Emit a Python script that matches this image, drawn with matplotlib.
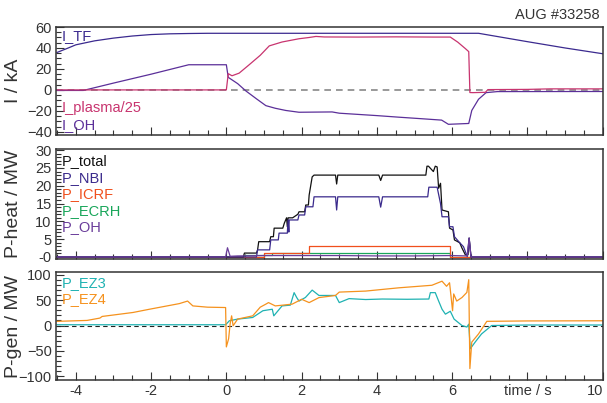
import numpy as np
import matplotlib
matplotlib.use('Agg')
from matplotlib import pyplot as plt
from matplotlib.ticker import MultipleLocator, FixedLocator, FixedFormatter

plt.rcParams['font.family'] = ['Liberation Sans', 'DejaVu Sans']

# --- data (time in s) ---
t_itf = [-4.5, -4.2, -4.0, -3.5, -3.0, -2.5, -2.0, -1.5, -1.0, -0.5, 0.0, 6.7, 8.0, 9.0, 10.0]
i_tf = [35.7, 40.0, 43.0, 46.8, 49.4, 51.4, 52.8, 53.5, 53.8, 54.0, 54.0, 54.0, 46.0, 40.0, 34.5]

t_ipl = [-4.5, -0.02, 0.0, 0.05, 0.15, 0.34, 0.6, 0.9, 1.14, 1.48, 1.93, 2.2, 2.38, 2.6, 3.5,
         4.5, 5.5, 5.95, 6.15, 6.35, 6.44, 6.47, 6.55, 6.88, 6.95, 8.0, 8.6, 10.0]
i_pl = [0.0, 0.0, 0.0, 15.5, 13.5, 16.0, 23.8, 33.0, 42.0, 45.7, 48.8, 50.0, 51.0, 50.5, 50.4,
        50.6, 50.4, 50.4, 45.5, 39.4, 36.5, -2.5, -2.6, -2.3, 0.3, 0.5, 1.0, 1.0]

t_ioh = [-4.5, -3.8, -3.0, -2.0, -1.0, 0.0, 0.05, 0.3, 0.52, 0.8, 1.05, 1.3, 1.58, 1.93, 2.81,
         3.0, 4.0, 4.58, 5.2, 5.72, 5.9, 6.44, 6.52, 6.7, 6.9, 7.2, 10.0]
i_oh = [-0.5, -0.5, 6.5, 15.0, 24.0, 24.0, 12.0, 6.0, -1.0, -8.5, -15.0, -17.5, -19.6, -21.3, -21.0,
        -22.2, -24.5, -26.0, -27.5, -28.8, -32.8, -32.0, -19.6, -8.9, -2.6, -1.6, -1.5]

t_ptot = [-4.5, 0.45, 0.48, 0.8, 0.83, 0.86, 1.15, 1.18, 1.25, 1.27, 1.5, 1.54, 1.6, 1.62, 1.64,
          1.76, 1.9, 1.93, 2.08, 2.11, 2.18, 2.2, 2.28, 2.33, 2.9, 2.93, 2.96, 4.05, 4.1, 4.15,
          5.3, 5.33, 5.37, 5.5, 5.55, 5.6, 5.64, 5.69, 5.73, 5.9, 5.93, 6.02, 6.06, 6.2, 6.26,
          6.35, 6.42, 6.45, 6.5, 10.0]
p_tot = [0.0, 0.0, 1.1, 1.1, 2.0, 4.3, 4.3, 5.7, 5.7, 8.1, 8.1, 9.5, 11.0, 8.5, 11.0,
         11.0, 12.0, 12.7, 12.7, 14.6, 14.6, 17.4, 22.5, 23.0, 23.0, 20.5, 23.0, 23.0, 21.5, 23.0,
         23.0, 25.5, 25.5, 24.0, 25.5, 25.3, 19.3, 20.7, 13.2, 12.7, 8.1, 7.6, 4.8, 4.0, 2.5,
         0.6, 0.6, 5.3, 0.0, 0.0]

t_nbi = [-4.5, 0.8, 0.83, 1.15, 1.18, 1.38, 1.4, 1.62, 1.64, 1.66, 1.67, 1.9, 1.93, 2.08, 2.11,
         2.3, 2.33, 2.9, 2.93, 2.96, 4.05, 4.1, 4.15, 5.35, 5.38, 5.6, 5.69, 5.73, 5.9, 5.93,
         6.02, 6.06, 6.2, 6.3, 6.35, 6.4, 6.45, 6.5, 10.0]
p_nbi = [0.0, 0.0, 2.0, 2.0, 4.8, 4.8, 6.7, 6.7, 10.4, 7.0, 10.4, 10.4, 11.8, 11.8, 14.1,
         14.1, 16.9, 16.9, 13.2, 16.9, 16.9, 14.0, 16.9, 16.9, 19.6, 19.6, 15.0, 11.3, 11.3, 8.5,
         8.5, 5.7, 4.0, 2.9, 1.5, 0.1, 5.3, 0.0, 0.0]

t_icrf = [-4.5, 1.0, 1.0, 2.2, 2.2, 5.95, 5.95, 10.0]
p_icrf = [0.0, 0.0, 1.2, 1.2, 3.0, 3.0, 0.0, 0.0]

t_ecrh = [-4.5, 0.48, 0.48, 1.2, 1.2, 5.95, 5.95, 10.0]
p_ecrh = [0.0, 0.0, 0.7, 0.7, 1.0, 1.0, 0.0, 0.0]

t_poh = [-4.5, -0.02, 0.03, 0.1, 0.3, 1.0, 2.0, 3.0, 4.0, 5.0, 6.0, 6.4, 6.45, 6.5, 10.0]
p_poh = [0.0, 0.0, 2.6, 0.2, 0.3, 0.4, 0.4, 0.4, 0.3, 0.3, 0.4, 0.3, 5.3, 0.0, 0.0]

t_ez3 = [-4.5, -2.0, -0.02, 0.08, 0.3, 0.7, 0.97, 1.22, 1.26, 1.48, 1.7, 1.8, 1.87, 1.93, 2.1,
         2.28, 2.46, 2.9, 3.0, 3.26, 3.7, 4.14, 4.8, 5.38, 5.42, 5.55, 5.64, 5.73, 5.82, 5.95,
         6.05, 6.26, 6.39, 6.44, 6.48, 6.61, 6.78, 7.05, 8.0, 10.0]
p_ez3 = [1.5, 1.5, 1.5, 9.3, 12.6, 15.8, 29.0, 32.0, 19.0, 38.5, 40.0, 64.5, 54.8, 48.0, 55.0,
         69.5, 59.0, 59.0, 45.0, 52.8, 51.0, 52.0, 51.5, 52.0, 64.5, 64.5, 48.0, 32.0, 22.3, 28.0,
         12.6, 0.0, -3.0, 2.6, -45.6, -32.6, -16.5, 0.0, 1.0, 1.0]

t_ez4 = [-4.5, -3.7, -3.36, -3.3, -2.48, -2.04, -1.25, -1.03, -0.89, -0.5, -0.02, 0.0, 0.06, 0.1,
         0.14, 0.18, 0.3, 0.7, 0.9, 1.05, 1.12, 1.3, 1.5, 1.75, 2.0, 2.2, 2.46, 2.9, 3.0, 3.7,
         4.58, 5.46, 5.73, 5.85, 5.93, 6.01, 6.04, 6.12, 6.26, 6.39, 6.44, 6.47, 6.52, 6.7, 6.92,
         8.0, 10.0]
p_ez4 = [8.2, 10.0, 14.6, 17.8, 25.6, 32.0, 43.0, 48.0, 38.5, 36.0, 35.3, -42.0, -26.0, 3.0,
         19.0, -0.4, 12.6, 19.0, 36.0, 42.0, 45.0, 38.5, 40.0, 42.0, 51.5, 45.0, 54.8, 59.0, 65.6, 67.6,
         74.0, 79.0, 87.0, 77.0, 84.0, 29.0, 62.0, 48.0, 55.0, 65.0, 90.0, -84.5, -32.6, -16.5, 8.2,
         9.0, 9.3]

# --- styling ---
edge = '#333333'
c_tf, c_pl, c_oh = '#3b2a8f', '#c8346f', '#5b2f99'
c_tot, c_nbi, c_icrf, c_ecrh, c_poh = '#111111', '#3a2a8c', '#f04f1c', '#19a65a', '#6a3d9a'
c_ez3, c_ez4 = '#1fb2b2', '#f5921e'
lw = 0.9

fig = plt.figure(figsize=(6.07, 4.03), dpi=100)
left, width = 0.092, 0.901
ax1 = fig.add_axes([left, 0.665, width, 0.268])
ax2 = fig.add_axes([left, 0.357, width, 0.273])
ax3 = fig.add_axes([left, 0.057, width, 0.268])

# panel 1: currents
ax1.axhline(0, color='#888888', lw=1.2, ls=(0, (4, 3)))
ax1.plot(t_itf, i_tf, color=c_tf, lw=lw)
ax1.plot(t_ioh, i_oh, color=c_oh, lw=lw)
ax1.plot(t_ipl, i_pl, color=c_pl, lw=lw)
ax1.set_ylim(-43, 60)
ax1.yaxis.set_major_locator(MultipleLocator(20))
ax1.yaxis.set_minor_locator(MultipleLocator(5))
ax1.set_ylabel('I / kA', fontsize=14)
ax1.text(0.011, 0.915, 'I_TF', color=c_tf, transform=ax1.transAxes, fontsize=10.5, va='center')
ax1.text(0.011, 0.25, 'I_plasma/25', color=c_pl, transform=ax1.transAxes, fontsize=10.5, va='center')
ax1.text(0.011, 0.09, 'I_OH', color=c_oh, transform=ax1.transAxes, fontsize=10.5, va='center')

# panel 2: heating powers
ax2.plot(t_ecrh, p_ecrh, color=c_ecrh, lw=lw)
ax2.plot(t_icrf, p_icrf, color=c_icrf, lw=lw)
ax2.plot(t_ptot, p_tot, color=c_tot, lw=lw)
ax2.plot(t_nbi, p_nbi, color=c_nbi, lw=lw)
ax2.plot(t_poh, p_poh, color=c_poh, lw=lw)
ax2.set_ylim(-0.6, 30.3)
ax2.yaxis.set_major_locator(FixedLocator([0, 5, 10, 15, 20, 25, 30]))
ax2.yaxis.set_major_formatter(FixedFormatter(['-0', '5', '10', '15', '20', '25', '30']))
ax2.yaxis.set_minor_locator(MultipleLocator(1))
ax2.set_ylabel('P-heat / MW', fontsize=14)
labels2 = [('P_total', c_tot), ('P_NBI', c_nbi), ('P_ICRF', c_icrf), ('P_ECRH', c_ecrh), ('P_OH', c_poh)]
for k, (s, c) in enumerate(labels2):
    ax2.text(0.011, 0.89 - 0.15 * k, s, color=c, transform=ax2.transAxes, fontsize=10.5, va='center')

# panel 3: generator powers
ax3.axhline(0, color='#222222', lw=0.8, ls=(0, (4, 3)))
ax3.plot(t_ez3, p_ez3, color=c_ez3, lw=lw)
ax3.plot(t_ez4, p_ez4, color=c_ez4, lw=lw)
ax3.set_ylim(-107, 105)
ax3.yaxis.set_major_locator(MultipleLocator(50))
ax3.yaxis.set_minor_locator(MultipleLocator(10))
ax3.set_ylabel('P-gen / MW', fontsize=14)
ax3.text(0.011, 0.895, 'P_EZ3', color=c_ez3, transform=ax3.transAxes, fontsize=10.5, va='center')
ax3.text(0.011, 0.747, 'P_EZ4', color=c_ez4, transform=ax3.transAxes, fontsize=10.5, va='center')

for ax in (ax1, ax2, ax3):
    ax.set_xlim(-4.53, 10)
    ax.xaxis.set_major_locator(MultipleLocator(2))
    ax.xaxis.set_minor_locator(MultipleLocator(0.5))
    ax.tick_params(which='both', direction='in', colors=edge, labelsize=10.5,
                   top=False, right=False, pad=3)
    ax.tick_params(which='major', length=6, width=0.8)
    ax.tick_params(which='minor', length=3.5, width=0.8)
    for sp in ax.spines.values():
        sp.set_color(edge)
        sp.set_linewidth(1.1)
    ax.yaxis.label.set_color(edge)
    ax.yaxis.set_label_coords(-0.062, 0.5)

for ax in (ax1, ax2):
    ax.tick_params(labelbottom=False)

ax3.xaxis.set_major_locator(FixedLocator([-4, -2, 0, 2, 4, 6, 8, 10]))
ax3.xaxis.set_major_formatter(FixedFormatter(['-4', '-2', '0', '2', '4', '6', 'time / s', '10']))
fig.canvas.draw()
ax3.get_xticklabels()[-1].set_ha('right')

fig.text(0.988, 0.962, 'AUG #33258', ha='right', va='center', fontsize=10.5, color=edge)

plt.savefig('out.png', dpi=100)
